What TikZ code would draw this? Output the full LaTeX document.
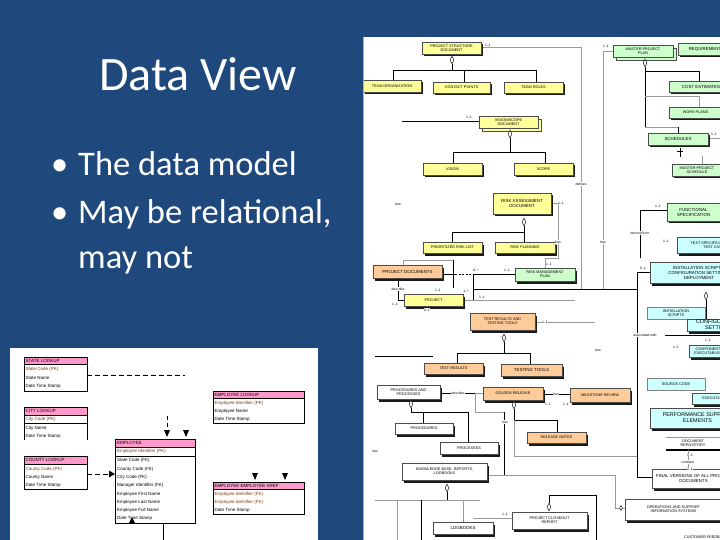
\documentclass[tikz,border=0pt]{standalone}
\usepackage{fontspec}
\setmainfont{Carlito}
\newfontfamily\df{Liberation Sans}
\usetikzlibrary{shapes.geometric}
\definecolor{slide}{HTML}{1F497D}
\definecolor{cy}{HTML}{FFFF99}
\definecolor{cg}{HTML}{CCFFCC}
\definecolor{cc}{HTML}{CCFFFF}
\definecolor{co}{HTML}{FFCC99}
\definecolor{pinkh}{HTML}{FF99CC}
\definecolor{pkc}{HTML}{7A3A10}
% name, fill, x1, y1, x2, y2, style, text
\newcommand{\dgbox}[8]{%
  \fill[black!90] ({#3+2},{#4+2.5}) rectangle ({#5+2},{#6+2.5});
  \draw[fill=#2, draw=black!70, line width=0.35pt] (#3,#4) rectangle (#5,#6);
  \node[rt,#7] (#1) at ({(#3+#5)/2},{(#4+#6)/2}) {#8};}
\newcommand{\dgboxo}[8]{%
  \draw[fill=#2, draw=black!70, line width=0.35pt] ({#3+3},{#4+3}) rectangle ({#5+3},{#6+3});
  \draw[fill=#2, draw=black!70, line width=0.35pt] (#3,#4) rectangle (#5,#6);
  \node[rt,#7] (#1) at ({(#3+#5)/2},{(#4+#6)/2}) {#8};}
\newcommand{\dgboxn}[8]{%
  \draw[fill=#2, draw=black!50, line width=0.35pt] (#3,#4) rectangle (#5,#6);
  \node[rt,#7] (#1) at ({(#3+#5)/2},{(#4+#6)/2}) {#8};}
\begin{document}
\begin{tikzpicture}[x=1pt,y=-1pt,
  rt/.style={font=\df\fontsize{3.8}{4.3}\selectfont, align=center, inner sep=0pt},
  rmid/.style={font=\df\fontsize{4.4}{5}\selectfont},
  rbig/.style={font=\df\fontsize{5.4}{6}\selectfont},
  lab/.style={font=\df\fontsize{3.4}{4}\selectfont, inner sep=0.3pt, fill=white},
  ln/.style={line width=0.45pt, draw=black},
  gl/.style={line width=0.45pt, draw=black!40},
  dia/.style={diamond, draw, fill=white, inner sep=0pt, minimum width=4pt, minimum height=8pt, aspect=0.5, line width=0.4pt},
  erdbox/.style={draw=black, line width=0.6pt},
  erdh/.style={font=\df\fontsize{4.5}{5}\selectfont, anchor=west, inner sep=0pt},
  erdt/.style={font=\df\fontsize{4.5}{5}\selectfont, anchor=west, inner sep=0pt},
  erdpk/.style={erdt, text=pkc},
  slidetext/.style={text=white, inner sep=0pt, anchor=base west, font=\fontsize{34.5}{40}\selectfont}
]
\useasboundingbox (0,0) rectangle (720,540);
\fill[slide] (0,0) rectangle (720,540);

% ---------- slide text ----------
\node[text=white, inner sep=0pt, anchor=base, font=\fontsize{48}{56}\selectfont] (title) at (198,91) {Data View};
\node[slidetext] (d1) at (51,176) {•};
\node[slidetext] (b1) at (78,176) {The data model};
\node[slidetext] (d2) at (51,224) {•};
\node[slidetext] (b2) at (78,224) {May be relational,};
\node[slidetext] (b3) at (78,268) {may not};

% ---------- left ERD image ----------
\begin{scope}
\clip (10,348) rectangle (318,540);
\fill[white] (10,348) rectangle (318,540);
% STATE LOOKUP
\draw[erdbox, fill=white] (24,357) rectangle (87,391);
\draw[erdbox, fill=pinkh] (24,357) rectangle (87,364);
\node[erdh] (slh) at (25.5,360.7) {STATE LOOKUP};
\node[erdpk] (sl1) at (25.5,369) {State Code (PK)};
\node[erdt] (sl2) at (25.5,378) {State Name};
\node[erdt] (sl3) at (25.5,386.5) {Date Time Stamp};
\draw[line width=0.8pt, dash pattern=on 5pt off 3pt] (87,375) -- (185,375);
% CITY LOOKUP
\draw[erdbox, fill=white] (24,440) -- (24,407) -- (87,407) -- (87,440);
\draw[erdbox, fill=pinkh] (24,407) rectangle (87,415);
\draw[erdbox] (24,423) -- (87,423);
\node[erdh] (clh) at (25.5,411) {CITY LOOKUP};
\node[erdpk] (cl1) at (25.5,419) {City Code (PK)};
\node[erdt] (cl2) at (25.5,428) {City Name};
\node[erdt] (cl3) at (25.5,436.5) {Date Time Stamp};
% COUNTY LOOKUP
\draw[erdbox, fill=white] (24,456) rectangle (87,489);
\draw[erdbox, fill=pinkh] (24,456) rectangle (87,464);
\node[erdh] (colh) at (25.5,460) {COUNTY LOOKUP};
\node[erdpk] (col1) at (25.5,469) {County Code (PK)};
\node[erdt] (col2) at (25.5,477) {County Name};
\node[erdt] (col3) at (25.5,485.5) {Date Time Stamp};
% EMPLOYEE
\draw[erdbox, fill=white] (115,439) rectangle (195,523);
\draw[erdbox, fill=pinkh] (115,439) rectangle (195,447);
\draw[erdbox] (115,456) -- (195,456);
\node[erdh] (emh) at (117,443) {EMPLOYEE};
\node[erdpk] (em0) at (117,451.5) {Employee Identifier (PK)};
\node[erdt] (em1) at (117,460.5) {State Code (FK)};
\node[erdt] (em2) at (117,469) {County Code (FK)};
\node[erdt] (em3) at (117,477) {City Code (FK)};
\node[erdt] (em4) at (117,485.5) {Manager Identifier (FK)};
\node[erdt] (em5) at (117,494) {Employee First Name};
\node[erdt] (em6) at (117,502) {Employee Last Name};
\node[erdt] (em7) at (117,510) {Employee Full Name};
\node[erdt] (em8) at (117,518.5) {Date Time Stamp};
% EMPLOYEE LOOKUP
\draw[erdbox, fill=white] (213,391) rectangle (304,423);
\draw[erdbox, fill=pinkh] (213,391) rectangle (304,398);
\node[erdh] (elh) at (214.5,394.5) {EMPLOYEE LOOKUP};
\node[erdpk] (el1) at (214.5,403) {Employee Identifier (PK)};
\node[erdt] (el2) at (214.5,411) {Employee Name};
\node[erdt] (el3) at (214.5,419) {Date Time Stamp};
% EMPLOYEE EMPLOYEE XREF
\draw[erdbox, fill=white] (213,482) rectangle (304,514);
\draw[erdbox, fill=pinkh] (213,482) rectangle (304,489);
\node[erdh] (exh) at (214.5,485.5) {EMPLOYEE EMPLOYEE XREF};
\node[erdpk] (ex1) at (214.5,494) {Employee Identifier (FK)};
\node[erdpk] (ex2) at (214.5,502) {Employee Identifier (FK)};
\node[erdt] (ex3) at (214.5,510) {Date Time Stamp};
% arrows
\draw[line width=0.8pt, dash pattern=on 4pt off 3pt] (167,416) -- (167,430);
\fill (164,430) -- (170,430) -- (167,437) -- cycle;
\fill (183,430) -- (189,430) -- (186,437) -- cycle;
\draw[line width=0.8pt, dash pattern=on 5pt off 3pt] (87,474) -- (109,474);
\fill (109,470.5) -- (109,477.5) -- (115,474) -- cycle;
\fill (129,523) -- (135,523) -- (132,517) -- cycle;
\draw[line width=0.8pt] (163,523) -- (163,540);
\fill (252,473) -- (258,473) -- (255,480) -- cycle;
\fill (282,473) -- (288,473) -- (285,480) -- cycle;
\end{scope}

% ---------- right diagram image ----------
\begin{scope}
\clip (363,37) rectangle (720,540);
\fill[white] (363,37) rectangle (720,540);
% lines
\draw[ln] (452,64) -- (452,70);
\draw[ln] (393,80) -- (393,70) -- (536,70) -- (536,82);
\draw[ln] (464,70) -- (464,82);
\draw[gl] (481,47) -- (581,47) -- (581,289);
\draw[gl] (613,51) -- (603,51) -- (603,289);
\draw[ln] (402,121) -- (479,121);
\draw[ln] (510,138) -- (510,152);
\draw[ln] (453,163) -- (453,152) -- (545,152) -- (545,163);
\draw[ln] (524,226) -- (524,232);
\draw[ln] (452,242) -- (452,232) -- (524,232) -- (524,242);
\draw[gl] (551,203) -- (558,203) -- (558,258) -- (545,258) -- (545,268);
\draw[ln] (645,67) -- (645,127);
\draw[ln] (645,71) -- (699,71) -- (699,81);
\draw[gl] (645,96) -- (699,96) -- (699,107);
\draw[gl] (645,127) -- (678,127);
\draw[ln] (678,127) -- (678,133);
\draw[ln] (680,148) -- (680,157);
\draw[ln] (677,151) -- (683,151);
\draw[gl] (710,138) -- (720,138);
\draw[gl] (702,156) -- (702,164);
\draw[ln] (667,210) -- (640,210) -- (640,258);
\draw[ln] (650,272) -- (637,272) -- (637,477) -- (652,477);
\draw[ln] (473,289) -- (637,289);
\draw[ln] (473,274) -- (473,300);
\draw[gl] (463,300) -- (575,300);
\draw[gl] (403,265) -- (403,260) -- (453,260);
\draw[ln] (453,260) -- (453,288);
\draw[ln] (442,274) -- (455,274);
\draw[ln, dash pattern=on 2pt off 1.5pt] (455,274) -- (473,274);
\draw[ln] (473,274) -- (515,274);
\draw[ln] (398,278) -- (398,300) -- (404,300);
\draw[ln] (504,342) -- (504,353);
\draw[ln] (457,363) -- (457,353) -- (530,353) -- (530,364);
\draw[gl] (537,322) -- (595,322);
\draw[ln] (375,356) -- (433,356);
\draw[ln] (706,300) -- (706,319);
\draw[ln] (665,335) -- (720,335);
\draw[ln] (440,393) -- (475,393);
\draw[gl] (475,393) -- (483,393);
\draw[gl] (475,393) -- (475,412) -- (504,412);
\draw[ln] (504,412) -- (504,475);
\draw[ln] (411,408) -- (411,412) -- (468,412) -- (468,442);
\draw[ln] (423,412) -- (423,423);
\draw[ln] (514,409) -- (514,420) -- (557,420) -- (557,432);
\draw[gl] (514,420) -- (514,456) -- (637,456);
\draw[ln] (543,394) -- (570,394);
\draw[gl] (487,475) -- (615,475) -- (615,508) -- (625,508);
\draw[ln] (447,492) -- (447,500);
\draw[gl] (375,500) -- (480,500);
\draw[ln] (421,500) -- (421,540);
\draw[gl] (397,500) -- (397,540);
\draw[gl] (463,500) -- (463,522);
\draw[ln] (549,503) -- (549,495) -- (596,495) -- (596,540);
\draw[gl] (473,518) -- (512,518);
\draw[gl] (666,437) -- (720,437);
\draw[line width=1.1pt] (666,450) -- (720,450);
\draw[gl] (688,450) -- (688,469);
% boxes
\dgbox{psd}{cy}{422}{42}{481}{54}{}{PROJECT STRUCTURE\\DOCUMENT}
\dgbox{torg}{cy}{363}{80}{421}{92}{}{TEAM ORGANIZATION}
\dgbox{cpts}{cy}{433}{82}{490}{93}{}{CONTACT POINTS}
\dgbox{troles}{cy}{504}{82}{563}{93}{}{TEAM ROLES}
\dgboxo{vsd}{cy}{479}{116}{538}{128}{}{VISION/SCOPE\\DOCUMENT}
\dgbox{vision}{cy}{423}{163}{482}{175}{}{VISION}
\dgbox{scope}{cy}{514}{163}{573}{175}{}{SCOPE}
\dgbox{rad}{cy}{493}{193}{551}{214}{rmid}{RISK ASSESSMENT\\DOCUMENT}
\dgbox{prl}{cy}{423}{242}{482}{253}{}{PRIORITIZED RISK LIST}
\dgbox{rplan}{cy}{495}{242}{555}{253}{}{RISK PLANNING}
\dgbox{pdocs}{co}{373}{265}{442}{278}{rmid}{PROJECT DOCUMENTS}
\dgbox{rmp}{cg}{515}{268}{575}{281}{}{RISK MANAGEMENT\\PLAN}
\dgbox{project}{cy}{404}{294}{463}{306}{}{PROJECT}
\dgbox{trtt}{co}{470}{313}{535}{330}{}{TEST RESULTS AND\\TESTING TOOLS}
\dgbox{tres}{co}{424}{363}{483}{374}{}{TEST RESULTS}
\dgbox{ttools}{co}{501}{364}{562}{376}{rmid}{TESTING TOOLS}
\dgbox{pap}{white}{377}{385}{440}{399}{}{PROCEDURES AND\\PROCESSES}
\dgbox{procs}{white}{395}{423}{453}{434}{}{PROCEDURES}
\dgbox{proces}{white}{440}{442}{498}{454}{}{PROCESSES}
\dgbox{golden}{co}{483}{387}{543}{400}{}{GOLDEN RELEASE}
\dgbox{mreview}{co}{570}{388}{630}{402}{}{MILESTONE REVIEW}
\dgbox{rnotes}{co}{527}{432}{586}{443}{}{RELEASE NOTES}
\dgbox{kb}{white}{402}{463}{487}{480}{}{KNOWLEDGE BASE, REPORTS,\\LOGBOOKS}
\dgbox{logb}{white}{433}{522}{493}{534}{rmid}{LOGBOOKS}
\dgbox{pcr}{white}{512}{512}{587}{529}{}{PROJECT CLOSEOUT\\REPORT}
\dgboxo{mpp}{cg}{613}{45}{673}{57}{}{MASTER PROJECT\\PLAN}
\dgbox{req}{cg}{678}{43}{735}{55}{rmid}{REQUIREMENTS}
\dgbox{cost}{cg}{669}{81}{733}{92}{rmid}{COST ESTIMATES}
\dgbox{wplans}{cg}{669}{107}{722}{118}{}{WORK PLANS}
\dgbox{sched}{cg}{648}{133}{708}{145}{rmid}{SCHEDULES}
\dgbox{mps}{cg}{672}{164}{722}{176}{}{MASTER PROJECT\\SCHEDULE}
\dgbox{fspec}{cg}{667}{203}{720}{221}{rmid}{FUNCTIONAL\\SPECIFICATION}
\dgbox{tspec}{cc}{677}{237}{753}{253}{}{TEST SPECIFICATION AND\\TEST CASES}
\dgbox{inst}{cc}{650}{262}{748}{283}{rmid}{INSTALLATION SCRIPTS,\\CONFIGURATION SETTINGS,\\DEPLOYMENT}
\dgboxn{iscripts}{cc}{647}{307}{705}{319}{}{INSTALLATION\\SCRIPTS}
\dgbox{config}{cc}{687}{319}{750}{331}{rbig}{CONFIGURATION\\SETTINGS}
\dgbox{compexe}{cc}{689}{345}{727}{357}{}{COMPONENT\\EXECUTABLES}
\dgboxn{src}{cc}{647}{378}{705}{390}{}{SOURCE CODE}
\dgbox{exe}{cc}{692}{393}{740}{404}{}{EXECUTABLES}
\dgbox{pse}{cc}{650}{408}{745}{428}{rbig}{PERFORMANCE SUPPORT\\ELEMENTS}
\node[rt] (docrep) at (693,443.5) {DOCUMENT\\REPOSITORY};
\dgbox{final}{white}{652}{469}{735}{488}{rmid}{FINAL VERSIONS OF ALL PROJECT\\DOCUMENTS}
\dgbox{ops}{white}{625}{499}{722}{520}{}{OPERATIONS AND SUPPORT\\INFORMATION SYSTEMS}
\node[rt, anchor=west] (cust) at (684,537) {CUSTOMER FEEDBACK};
% diamonds
\node[dia] (dm1) at (452,60) {};
\node[dia] (dm2) at (510,134) {};
\node[dia] (dm3) at (524,222) {};
\node[dia] (dm4) at (645,63) {};
\node[dia] (dm5) at (504,338) {};
\node[dia] (dm6) at (706,296) {};
\node[dia] (dm7) at (411,404) {};
\node[dia] (dm8) at (514,405) {};
\node[dia] (dm9) at (447,488) {};
\node[dia] (dm10) at (549,507) {};
\node[dia, minimum width=3pt, minimum height=5pt] (dm11) at (621,508) {};
% labels
\node[lab] (l1) at (488,45) {1..1};
\node[lab] (l2) at (606,46) {1..1};
\node[lab] (l3) at (469,117) {1..1};
\node[lab] (l4) at (581,184) {defines};
\node[lab] (l5) at (398,204) {has};
\node[lab] (l6) at (561,203) {1..1};
\node[lab] (l7) at (558,242) {has};
\node[lab] (l8) at (603,242) {has};
\node[lab] (l9) at (549,264) {1..1};
\node[lab] (l10) at (507,270) {1..1};
\node[lab] (l11) at (476,270) {0..*};
\node[lab] (l12) at (658,206) {1..1};
\node[lab] (l13) at (640,233) {derived from};
\node[lab] (l14) at (666,241) {1..1};
\node[lab] (l15) at (643,268) {0..1};
\node[lab] (l16) at (398,289) {describe};
\node[lab] (l17) at (395,304) {1..1};
\node[lab] (l18) at (427,310) {0..1};
\node[lab] (l19) at (438,290) {1..1};
\node[lab] (l20) at (466,291) {1..*};
\node[lab] (l21) at (482,297) {1..1};
\node[lab] (l22) at (545,322) {1..1};
\node[lab] (l23) at (645,335) {associated with};
\node[lab] (l24) at (708,340) {1..1};
\node[lab] (l25) at (676,347) {1..1};
\node[lab] (l26) at (598,350) {has};
\node[lab] (l27) at (458,393) {describe};
\node[lab] (l28) at (556,394) {has};
\node[lab] (l29) at (548,404) {1..1};
\node[lab] (l30) at (566,404) {1..1};
\node[lab] (l31) at (505,422) {has};
\node[lab] (l32) at (375,451) {has};
\node[lab] (l33) at (690,455) {1..1};
\node[lab] (l34) at (688,462) {contains};
\node[lab] (l35) at (690,469) {1..1};
\node[lab] (l36) at (505,514) {1..1};
\node[lab] (l37) at (714,134) {1..1};
\end{scope}
\draw[black!30, line width=0.4pt] (363,37) -- (363,540);
\end{tikzpicture}
\end{document}
